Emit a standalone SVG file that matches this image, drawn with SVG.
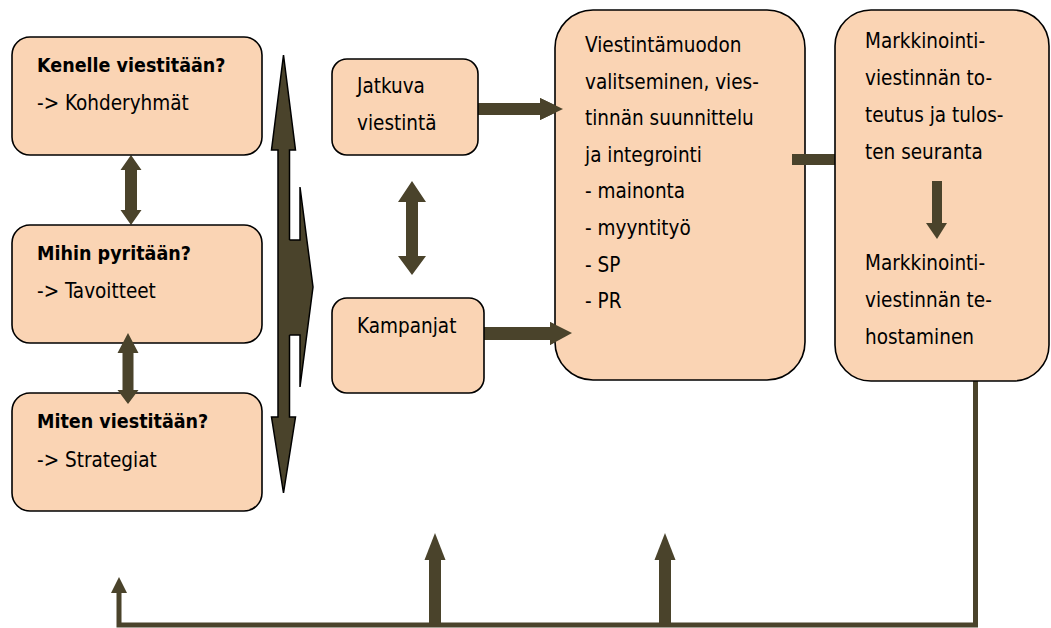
<svg xmlns="http://www.w3.org/2000/svg" width="1051" height="628" viewBox="0 0 1051 628">
<style>
.box{fill:#FAD4B4;stroke:#000;stroke-width:1.6}
.t{font-family:"DejaVu Sans Condensed","DejaVu Sans",sans-serif;font-stretch:condensed;font-size:20.5px;fill:#000}
.b{font-weight:bold;font-size:19.5px}
.ar{fill:#4A432B}
.aro{fill:#4A432B;stroke:#000;stroke-width:1.5;stroke-linejoin:miter}
.ln{fill:none;stroke:#4A432B}
</style>
<rect width="1051" height="628" fill="#fff"/>

<g id="connectors">
  <polygon class="ar" points="131,155 141.5,170 137,170 137,210 141.5,210 131,225 120.5,210 125,210 125,170 120.5,170"/>
  <polygon class="aro" points="283.5,55 295.5,150 289.5,150 289.5,417 295.5,417 283.5,493 271.5,417 278,417 278,150 271.5,150"/>
  <polygon class="ar" points="280,240 300,240 300,187 313,287 300,387 300,335 280,335"/>
  <polyline fill="none" stroke="#000" stroke-width="1.5" points="289.5,240 300,240 300,187 313,287 300,387 300,335 289.5,335"/>
  <polygon class="ar" points="412,181 426,202 418,202 418,256 426,256 412,275 398,256 406,256 406,202 398,202"/>
  <polygon class="ar" points="478,103 540,103 540,98 563,109 540,120 540,115 478,115"/>
  <polygon class="ar" points="484,327 550,327 550,322 572,333 550,345 550,340 484,340"/>
  <polyline class="ln" stroke-width="5" points="975.5,381 975.5,625 119,625 119,592"/>
  <polygon class="ar" points="119,577 127,593 111,593"/>
  <rect class="ar" x="429" y="558" width="12" height="66"/>
  <polygon class="ar" points="435,533 445.5,560 424.5,560"/>
  <rect class="ar" x="659" y="558" width="12" height="66"/>
  <polygon class="ar" points="665,533 675.5,560 654.5,560"/>
</g>

<g id="node-kenelle">
  <rect class="box" x="12" y="37" width="250" height="118" rx="18"/>
  <text class="t b" x="37" y="72">Kenelle viestitään?</text>
  <text class="t" x="37" y="110">-&gt; Kohderyhmät</text>
</g>
<g id="node-mihin">
  <rect class="box" x="12" y="225" width="250" height="118" rx="18"/>
  <text class="t b" x="37" y="260">Mihin pyritään?</text>
  <text class="t" x="37" y="298">-&gt; Tavoitteet</text>
</g>
<g id="node-miten">
  <rect class="box" x="12" y="393" width="250" height="118" rx="18"/>
  <text class="t b" x="37" y="428">Miten viestitään?</text>
  <text class="t" x="37" y="467">-&gt; Strategiat</text>
</g>
<g id="connector-overlay">
  <polygon class="ar" points="128,333 138.5,353 133.5,353 133.5,390 138.5,390 128,404 117.5,390 122.5,390 122.5,353 117.5,353"/>
</g>
<g id="node-jatkuva">
  <rect class="box" x="332" y="59" width="146" height="96" rx="15"/>
  <text class="t" x="357" y="93">Jatkuva</text>
  <text class="t" x="357" y="130">viestintä</text>
</g>
<g id="node-kampanjat">
  <rect class="box" x="332" y="298" width="152" height="95" rx="15"/>
  <text class="t" x="357" y="333">Kampanjat</text>
</g>
<g id="node-viestinta">
  <rect class="box" x="555" y="10" width="250" height="370" rx="38"/>
  <text class="t" x="585" y="52">Viestintämuodon</text>
  <text class="t" x="585" y="88.6">valitseminen, vies-</text>
  <text class="t" x="585" y="125.2">tinnän suunnittelu</text>
  <text class="t" x="585" y="161.8">ja integrointi</text>
  <text class="t" x="585" y="198.4">- mainonta</text>
  <text class="t" x="585" y="235">- myyntityö</text>
  <text class="t" x="585" y="271.6">- SP</text>
  <text class="t" x="585" y="308.2">- PR</text>
</g>
<g id="connector-overlay2">
  <rect class="ar" x="792" y="154" width="44" height="11"/>
  <polygon class="ar" points="540,98 563,109 540,120"/>
  <polygon class="ar" points="550,322 572,333 550,345"/>
</g>
<g id="node-markkinointi">
  <rect class="box" x="835" y="10" width="214" height="371" rx="36"/>
  <text class="t" x="865" y="48">Markkinointi-</text>
  <text class="t" x="865" y="85">viestinnän to-</text>
  <text class="t" x="865" y="122">teutus ja tulos-</text>
  <text class="t" x="865" y="159">ten seuranta</text>
  <polygon class="ar" points="932,181 942,181 942,223 947,223 937,239 926,223 932,223"/>
  <text class="t" x="865" y="270">Markkinointi-</text>
  <text class="t" x="865" y="307">viestinnän te-</text>
  <text class="t" x="865" y="344">hostaminen</text>
</g>
</svg>
